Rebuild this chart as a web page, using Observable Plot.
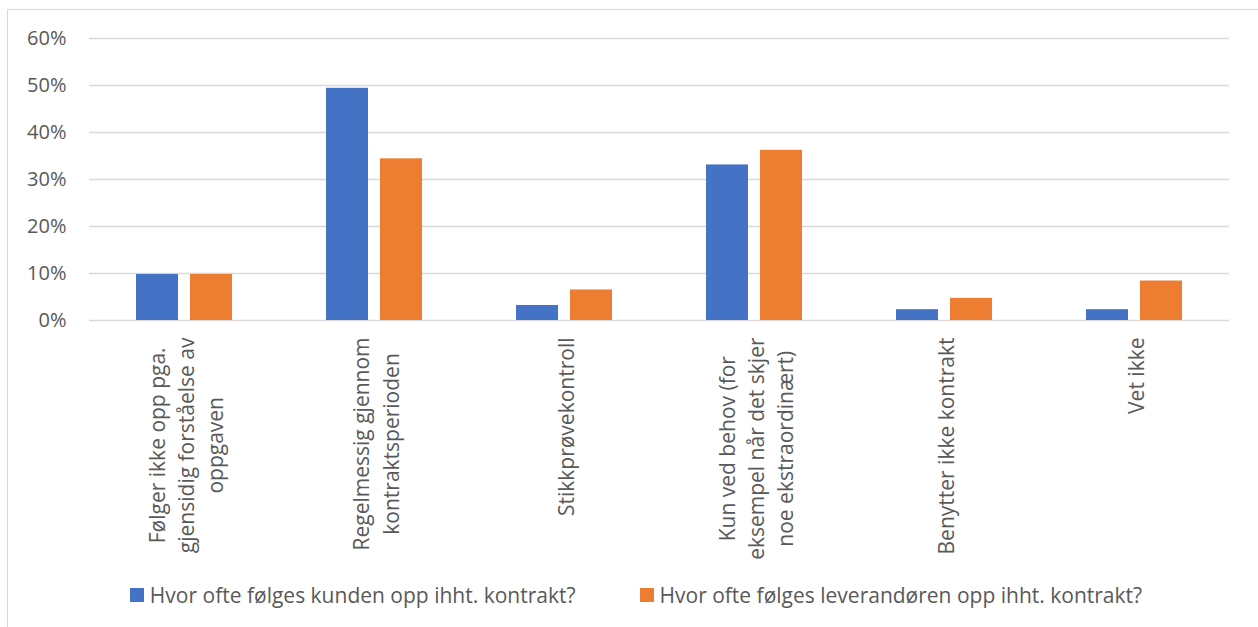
<!DOCTYPE html>
<html>
<head>
<meta charset="utf-8">
<script src="https://cdn.jsdelivr.net/npm/d3@7"></script>
<script src="https://cdn.jsdelivr.net/npm/@observablehq/plot@0.6"></script>
<style>
  html, body { margin: 0; padding: 0; background: #fff; }
  body { width: 1258px; height: 627px; position: relative; overflow: hidden; font-family: "Open Sans", sans-serif; }
  #chart { position: absolute; left: 0; top: 0; }
  #frame { position: absolute; left: 7px; top: 9px; width: 1400px; height: 800px;
           border-left: 1.3px solid #d9d9d9; border-top: 1.3px solid #d9d9d9; pointer-events: none; }
  #legend { position: absolute; left: 0; top: 581px; width: 1272px; display: flex; justify-content: center;
            gap: 64px; font-size: 21px; color: #595959; line-height: 28px; }
  .item { display: flex; align-items: center; gap: 6px; white-space: nowrap; }
  .swatch { width: 14px; height: 14px; display: inline-block; }
</style>
</head>
<body>
<div id="chart"></div>
<div id="frame"></div>
<div id="legend"></div>
<script>
// Answer categories (x axis) and their wrapped label text
const categories = ["Følger ikke opp", "Regelmessig", "Stikkprøvekontroll", "Kun ved behov", "Benytter ikke kontrakt", "Vet ikke"];
const categoryLabels = [
  "Følger ikke opp pga.\ngjensidig forståelse av\noppgaven",
  "Regelmessig gjennom\nkontraktsperioden",
  "Stikkprøvekontroll",
  "Kun ved behov (for\neksempel når det skjer\nnoe ekstraordinært)",
  "Benytter ikke kontrakt",
  "Vet ikke"
];

// Series names and shares per category
const seriesNames = [
  "Hvor ofte følges kunden opp ihht. kontrakt?",
  "Hvor ofte følges leverandøren opp ihht. kontrakt?"
];
const kundenValues = [0.098, 0.494, 0.032, 0.331, 0.023, 0.023];
const leverandorenValues = [0.098, 0.344, 0.065, 0.362, 0.047, 0.084];

// Y axis ticks
const yTicks = [0, 0.1, 0.2, 0.3, 0.4, 0.5, 0.6];

const seriesColors = ["#4472C4", "#ED7D31"];
const textColor = "#595959";
const gridColor = "#d9d9d9";
const labelFontSize = 21;

// Long-format rows for grouped bars
const rows = [];
categories.forEach((c, i) => {
  rows.push({category: c, series: seriesNames[0], value: kundenValues[i]});
  rows.push({category: c, series: seriesNames[1], value: leverandorenValues[i]});
});

// Measure the widest line of a label so the rotated block starts just under the axis
const ctx = document.createElement("canvas").getContext("2d");
ctx.font = `${labelFontSize}px "Open Sans"`;
const widestLine = (label) => Math.max(...label.split("\n").map((l) => ctx.measureText(l).width));

const labelMarks = categories.map((c, i) =>
  Plot.text([c], {
    fx: (d) => d,
    text: () => categoryLabels[i],
    frameAnchor: "bottom",
    rotate: -90,
    textAnchor: "middle",
    lineAnchor: "middle",
    lineHeight: 1.4,
    fontSize: labelFontSize,
    fill: textColor,
    dy: 17 + widestLine(categoryLabels[i]) / 2
  })
);

const chart = Plot.plot({
  width: 1258,
  height: 570,
  marginLeft: 88,
  marginRight: 28,
  marginTop: 38,
  marginBottom: 250,
  style: {background: "transparent", fontFamily: "'Open Sans', sans-serif", overflow: "visible"},
  fx: {domain: categories, padding: 0, axis: null},
  x: {domain: seriesNames, paddingInner: 0.22, paddingOuter: 0.856, axis: null},
  y: {domain: [0, 0.6], axis: null},
  color: {domain: seriesNames, range: seriesColors},
  marks: [
    Plot.gridY(yTicks, {stroke: gridColor, strokeOpacity: 1, strokeWidth: 1.3}),
    Plot.axisY(yTicks, {
      tickSize: 0,
      tickPadding: 23,
      tickFormat: d3.format(".0%"),
      fontSize: 20,
      fill: textColor,
      label: null
    }),
    Plot.barY(rows, {fx: "category", x: "series", y: "value", fill: "series"}),
    ...labelMarks
  ]
});
document.getElementById("chart").appendChild(chart);

// Legend below the chart
const legend = document.getElementById("legend");
seriesNames.forEach((name, i) => {
  const item = document.createElement("div");
  item.className = "item";
  const sw = document.createElement("span");
  sw.className = "swatch";
  sw.style.background = seriesColors[i];
  const tx = document.createElement("span");
  tx.textContent = name;
  item.appendChild(sw);
  item.appendChild(tx);
  legend.appendChild(item);
});
</script>
</body>
</html>
